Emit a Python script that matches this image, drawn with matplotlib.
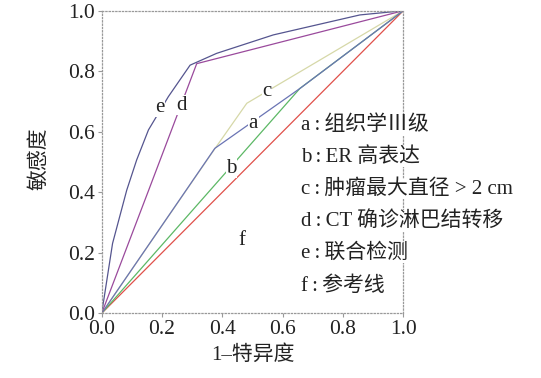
import matplotlib
matplotlib.use("Agg")
import matplotlib.pyplot as plt

plt.rcParams['font.family'] = ['Liberation Serif', 'Noto Sans CJK SC']

# ROC curve data (1-specificity, sensitivity)
a_x = [0.0, 0.375, 0.66, 1.0]
a_y = [0.0, 0.545, 0.745, 1.0]
b_x = [0.0, 0.657, 1.0]
b_y = [0.0, 0.743, 1.0]
c_x = [0.0, 0.376, 0.481, 1.0]
c_y = [0.0, 0.545, 0.694, 1.0]
d_x = [0.0, 0.155, 0.315, 1.0]
d_y = [0.0, 0.405, 0.825, 1.0]
e_x = [0.0, 0.036, 0.083, 0.116, 0.155, 0.221, 0.293, 0.381, 0.569, 0.856, 1.0]
e_y = [0.0, 0.231, 0.407, 0.507, 0.606, 0.716, 0.820, 0.859, 0.920, 0.986, 1.0]
f_x = [0.0, 1.0]
f_y = [0.0, 1.0]

curve_labels = ['a', 'b', 'c', 'd', 'e', 'f']
legend_texts = ['a\u2009:\u2009组织学Ⅲ级', 'b\u2009:\u2009ER 高表达',
                'c\u2009:\u2009肿瘤最大直径 > 2 cm',
                'd\u2009:\u2009CT 确诊淋巴结转移', 'e\u2009:\u2009联合检测',
                'f\u2009:\u2009参考线']
ticks = [0.0, 0.2, 0.4, 0.6, 0.8, 1.0]
tick_labels = ['0.0', '0.2', '0.4', '0.6', '0.8', '1.0']

fig = plt.figure(figsize=(5.41, 3.78), dpi=100)
ax = fig.add_axes([0.188, 0.1712, 0.5575, 0.8005])

lw = 0.9
ax.plot(f_x, f_y, color='#e0504a', lw=lw)
ax.plot(c_x, c_y, color='#d6d8a8', lw=lw)
ax.plot(b_x, b_y, color='#5cb865', lw=lw)
ax.plot(a_x, a_y, color='#6a74b4', lw=lw)
ax.plot(d_x, d_y, color='#9a4a9c', lw=lw)
ax.plot(e_x, e_y, color='#55558f', lw=lw)

label_pos = {'e': (0.194, 0.680), 'd': (0.265, 0.688), 'c': (0.547, 0.732),
             'a': (0.503, 0.628), 'b': (0.431, 0.479), 'f': (0.464, 0.242)}
for lab in curve_labels:
    x, y = label_pos[lab]
    ax.text(x, y, lab, fontsize=15, ha='center', va='center', color='#222222',
            bbox=dict(facecolor='white', edgecolor='none', pad=0.3))

leg_y = [0.622, 0.517, 0.411, 0.305, 0.199, 0.090]
for t, y in zip(legend_texts, leg_y):
    ax.text(0.661, y, t, fontsize=15, ha='left', va='center', color='#222222',
            clip_on=False,
            bbox=dict(facecolor='white', edgecolor='none', pad=0.5))

ax.set_xlim(0, 1)
ax.set_ylim(0, 1)
ax.set_xticks(ticks)
ax.set_xticklabels(tick_labels)
ax.set_yticks(ticks)
ax.set_yticklabels(tick_labels)
ax.tick_params(axis='both', labelsize=15.5, length=3, width=0.8, color='#999999',
               labelcolor='#222222', pad=2)
for s in ax.spines.values():
    s.set_linestyle(':')
    s.set_color('#999999')
    s.set_linewidth(0.9)

ax.set_xlabel('1–特异度', fontsize=15, color='#222222', labelpad=4)
ax.set_ylabel('敏感度', fontsize=15, color='#222222')
ax.yaxis.set_label_coords(-0.175, 0.51)

fig.savefig('out.png', dpi=100)
